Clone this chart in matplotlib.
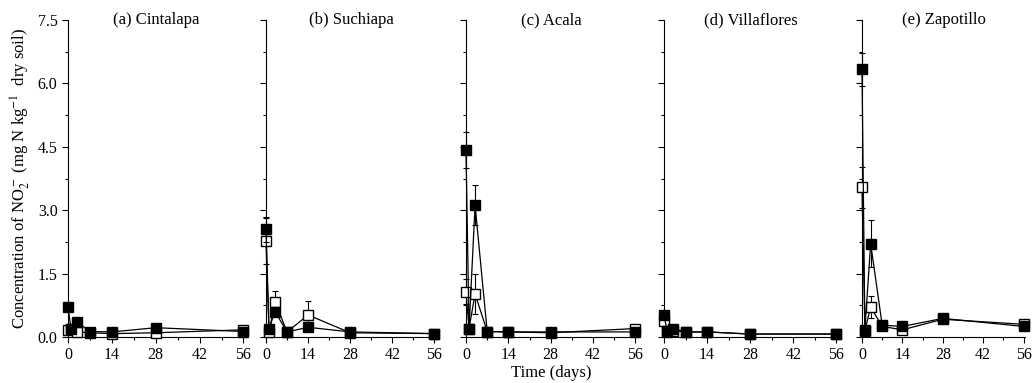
import matplotlib
matplotlib.use('Agg')
import matplotlib.pyplot as plt
from matplotlib.ticker import MultipleLocator, FormatStrFormatter, NullFormatter

plt.rcParams['font.family'] = ['Liberation Serif', 'DejaVu Serif']
plt.rcParams['mathtext.fontset'] = 'stix'

days = [0, 1, 3, 7, 14, 28, 56]
sites = ['(a) Cintalapa', '(b) Suchiapa', '(c) Acala', '(d) Villaflores', '(e) Zapotillo']

# filled squares
filled = [
    [0.70, 0.18, 0.35, 0.13, 0.12, 0.22, 0.13],
    [2.55, 0.20, 0.60, 0.12, 0.23, 0.12, 0.08],
    [4.42, 0.19, 3.12, 0.13, 0.12, 0.12, 0.12],
    [0.52, 0.15, 0.20, 0.12, 0.12, 0.07, 0.07],
    [6.33, 0.17, 2.21, 0.28, 0.25, 0.44, 0.25],
]
filled_err = [
    [0.08, 0.03, 0.05, 0.02, 0.02, 0.08, 0.02],
    [0.30, 0.03, 0.10, 0.02, 0.03, 0.02, 0.01],
    [0.42, 0.03, 0.48, 0.02, 0.02, 0.02, 0.02],
    [0.08, 0.03, 0.03, 0.02, 0.02, 0.01, 0.01],
    [0.38, 0.03, 0.56, 0.03, 0.03, 0.03, 0.03],
]
# open squares
hollow = [
    [0.17, 0.18, 0.12, 0.10, 0.08, 0.10, 0.17],
    [2.27, 0.12, 0.83, 0.12, 0.52, 0.10, 0.08],
    [1.07, 0.20, 1.02, 0.13, 0.12, 0.10, 0.20],
    [0.38, 0.12, 0.15, 0.12, 0.12, 0.07, 0.07],
    [3.54, 0.15, 0.71, 0.25, 0.17, 0.42, 0.30],
]
hollow_err = [
    [0.03, 0.02, 0.03, 0.02, 0.02, 0.03, 0.02],
    [0.55, 0.02, 0.27, 0.02, 0.32, 0.02, 0.01],
    [0.30, 0.03, 0.48, 0.02, 0.02, 0.02, 0.03],
    [0.05, 0.02, 0.03, 0.02, 0.02, 0.01, 0.01],
    [0.48, 0.02, 0.25, 0.03, 0.03, 0.03, 0.03],
]

lefts = [68, 266, 466, 664, 862]
widths = [177, 170, 171, 174, 163]

fig = plt.figure(figsize=(10.35, 3.83), dpi=100)
for i in range(5):
    ax = fig.add_axes([lefts[i] / 1035, 46 / 383, widths[i] / 1035, 317 / 383])
    ax.errorbar(days, hollow[i], yerr=hollow_err[i], fmt='-s', color='black',
                mfc='white', mec='black', ms=7, lw=0.9, elinewidth=0.8,
                capsize=2.5, capthick=0.8, clip_on=False, zorder=3)
    ax.errorbar(days, filled[i], yerr=filled_err[i], fmt='-s', color='black',
                mfc='black', mec='black', ms=7, lw=0.9, elinewidth=0.8,
                capsize=2.5, capthick=0.8, clip_on=False, zorder=4)
    ax.set_xlim(0, 56.5)
    ax.set_ylim(0, 7.5)
    ax.xaxis.set_major_locator(MultipleLocator(14))
    ax.xaxis.set_minor_locator(MultipleLocator(7))
    ax.yaxis.set_major_locator(MultipleLocator(1.5))
    ax.yaxis.set_minor_locator(MultipleLocator(0.75))
    ax.spines['top'].set_visible(False)
    ax.spines['right'].set_visible(False)
    ax.tick_params(which='major', direction='out', length=4, width=0.8, labelsize=11.5)
    ax.tick_params(which='minor', direction='out', length=2.5, width=0.8)
    if i == 0:
        ax.yaxis.set_major_formatter(FormatStrFormatter('%.1f'))
        ax.set_ylabel('Concentration of NO$_2^-$ (mg N kg$^{-1}$  dry soil)', fontsize=12)
    else:
        ax.yaxis.set_major_formatter(NullFormatter())
    ax.text(0.5, 1.0, sites[i], transform=ax.transAxes, ha='center', va='center', fontsize=12)
    if i == 2:
        ax.set_xlabel('Time (days)', fontsize=12, labelpad=1)

fig.savefig('out.png', dpi=100)
